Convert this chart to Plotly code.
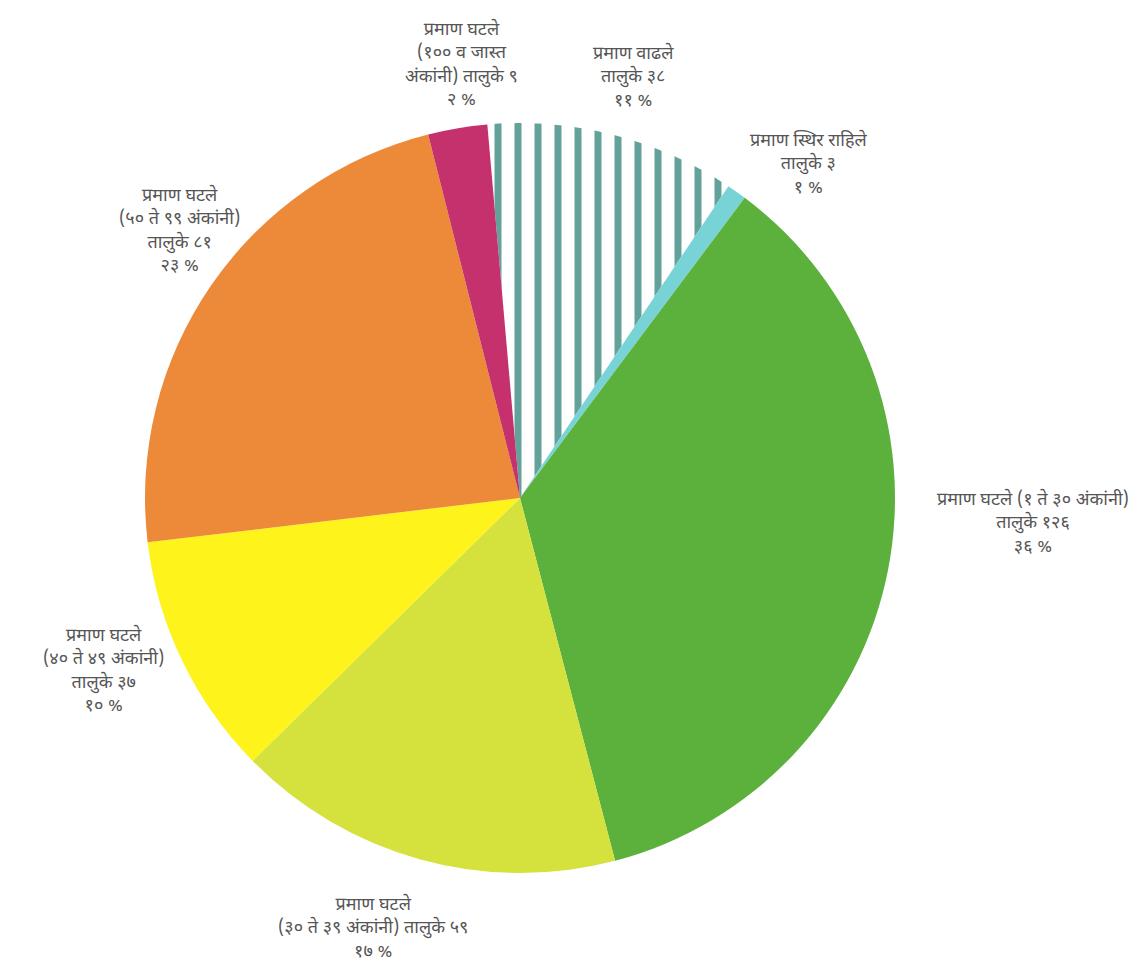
"""Pie chart: change in taluka counts (Marathi labels)."""

import plotly.graph_objects as go

# Data (clockwise from 12 o'clock)
categories = [
    "प्रमाण वाढले",
    "प्रमाण स्थिर राहिले",
    "प्रमाण घटले (१ ते ३० अंकांनी)",
    "प्रमाण घटले (३० ते ३९ अंकांनी)",
    "प्रमाण घटले (४० ते ४९ अंकांनी)",
    "प्रमाण घटले (५० ते ९९ अंकांनी)",
    "प्रमाण घटले (१०० व जास्त अंकांनी)",
]
taluka_counts = [38, 3, 126, 59, 37, 81, 9]
label_texts = [
    "प्रमाण वाढले<br>तालुके ३८<br>११ %",
    "प्रमाण स्थिर राहिले<br>तालुके ३<br>१ %",
    "प्रमाण घटले (१ ते ३० अंकांनी)<br>तालुके १२६<br>३६ %",
    "प्रमाण घटले<br>(३० ते ३९ अंकांनी) तालुके ५९<br>१७ %",
    "प्रमाण घटले<br>(४० ते ४९ अंकांनी)<br>तालुके ३७<br>१० %",
    "प्रमाण घटले<br>(५० ते ९९ अंकांनी)<br>तालुके ८१<br>२३ %",
    "प्रमाण घटले<br>(१०० व जास्त<br>अंकांनी) तालुके ९<br>२ %",
]

# Colour palette
_COLOURS = ["#ffffff", "#78d3d6", "#5cb03c", "#d5e13c", "#fff31c", "#ec8a3a", "#c5316c"]
_STRIPE = "#63a29b"
_TEXT = "#555555"
_FONT = "Noto Sans Devanagari, Lohit Devanagari, FreeSans, Noto Sans, sans-serif"

# label anchor positions (px from top-left, centre of text block)
_LABEL_POS = [
    (625, 70),
    (800, 156),
    (1025, 515),
    (365, 920),
    (95, 663),
    (172, 223),
    (453, 57),
]

W, H = 1141, 963
CX, CY, R = 512, 490, 375   # domain centre (plotly draws it ~8px right/down)

fig = go.Figure(
    go.Pie(
        labels=categories,
        values=taluka_counts,
        sort=False,
        direction="clockwise",
        rotation=-5,
        textinfo="none",
        hoverinfo="label+value+percent",
        showlegend=False,
        marker=dict(
            colors=_COLOURS,
            line=dict(width=0),
            pattern=dict(
                shape=["|", "", "", "", "", "", ""],
                fgcolor=_STRIPE,
                bgcolor="#ffffff",
                size=20,
                solidity=0.35,
            ),
        ),
        domain=dict(
            x=[(CX - R) / W, (CX + R) / W],
            y=[1 - (CY + R) / H, 1 - (CY - R) / H],
        ),
    )
)

for txt, (px, py) in zip(label_texts, _LABEL_POS):
    fig.add_annotation(
        x=px / W, y=1 - py / H,
        xref="paper", yref="paper",
        text=txt, showarrow=False,
        xanchor="center", yanchor="middle",
        align="center",
        font=dict(family=_FONT, size=18, color=_TEXT),
    )

fig.update_layout(
    width=W,
    height=H,
    margin=dict(l=0, r=0, t=0, b=0),
    paper_bgcolor="#ffffff",
    plot_bgcolor="#ffffff",
)

fig.write_html("out.html")
